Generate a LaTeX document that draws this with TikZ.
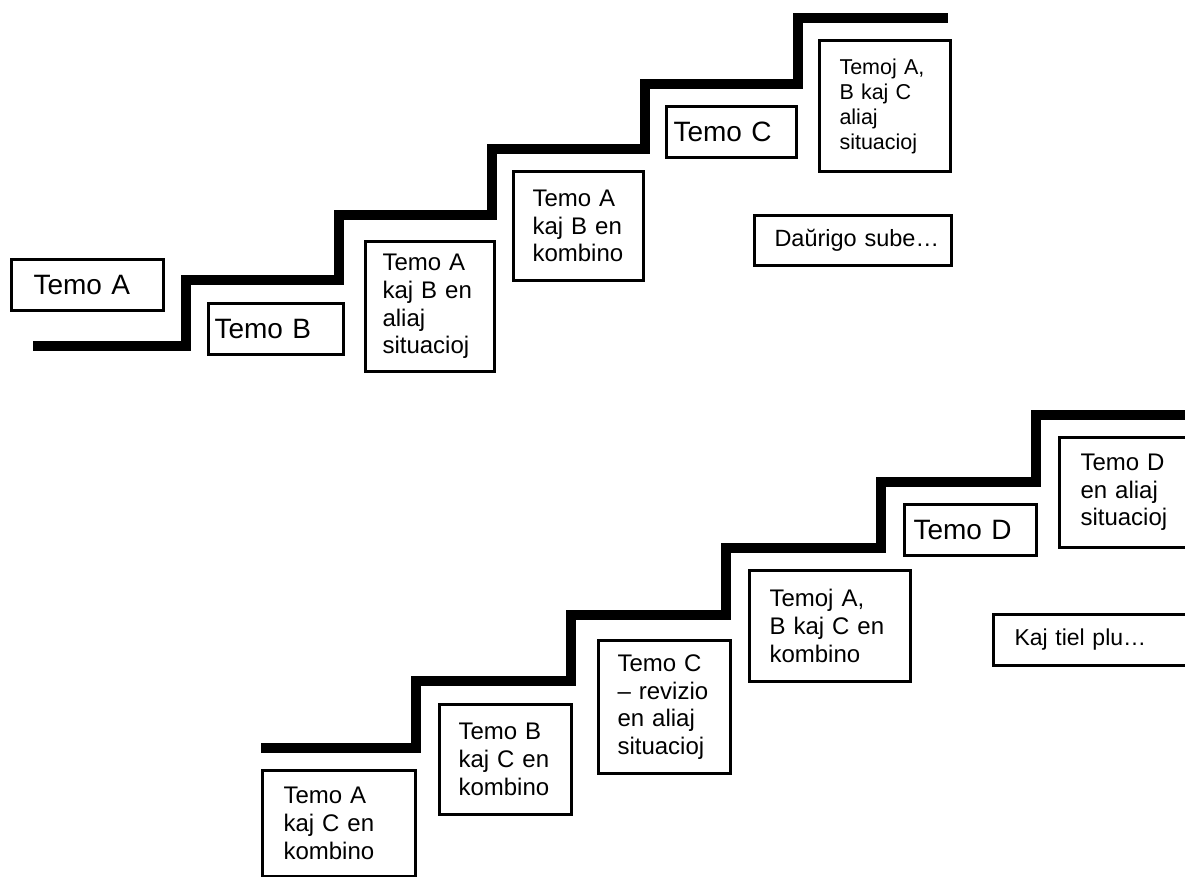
\documentclass[tikz,border=0pt]{standalone}
\usepackage{fontspec}
\setmainfont{Liberation Sans}

\begin{document}
\begin{tikzpicture}[x=1pt,y=-1pt,
    stair/.style={line width=10pt,line cap=butt,line join=miter},
    tbox/.style={draw,line width=3pt,anchor=north west,align=left,inner ysep=0pt},
    big/.style={font=\fontsize{28}{32}\selectfont},
    mid/.style={font=\fontsize{24}{27.7}\selectfont},
    small/.style={font=\fontsize{21.5}{25}\selectfont}]
    \useasboundingbox(0,0)rectangle(1185,877);
    \clip(0,0)rectangle(1185,877);
    \draw[stair](33,346)\foreach \i in {1,...,5}{--++(153,0)--++(0,-65.6)}--++(150,0);
    \draw[stair](261,748)\foreach \i in {1,...,5}{--++(155,0)--++(0,-66.6)}--++(170,0);
    \node[tbox,big,minimum width=152pt,minimum height=51pt,inner xsep=22pt,text width=108pt](temoA)at(10,258){Temo A};
    \node[tbox,big,minimum width=135pt,minimum height=51pt,inner xsep=6pt,text width=123pt](temoB)at(207,302){Temo B};
    \node[tbox,mid,minimum width=129pt,minimum height=130pt,inner xsep=17pt,text width=95pt](aBaliaj)at(364,240){Temo A\\kaj B en\\aliaj\\situacioj};
    \node[tbox,mid,minimum width=130pt,minimum height=109pt,inner xsep=19pt,text width=92pt](aBkomb)at(512,170){Temo A\\kaj B en\\kombino};
    \node[tbox,big,minimum width=130pt,minimum height=51pt,inner xsep=7pt,text width=116pt](temoC)at(665,105){Temo C};
    \node[tbox,small,minimum width=131pt,minimum height=131pt,inner xsep=20pt,text width=91pt](abcAliaj)at(818,39){Temoj A,\\B kaj C\\aliaj\\situacioj};
    \node[tbox,font=\fontsize{23.5}{27}\selectfont,minimum width=197pt,minimum height=50pt,inner xsep=20pt,text width=157pt](daurigo)at(753,214){Daŭrigo~sube…};
    \node[tbox,mid,minimum width=153pt,minimum height=106pt,inner xsep=21pt,text width=111pt](acKomb)at(261,769){Temo A\\kaj C en\\kombino};
    \node[tbox,mid,minimum width=132pt,minimum height=110pt,inner xsep=19pt,text width=94pt](bcKomb)at(438,703){Temo B\\kaj C en\\kombino};
    \node[tbox,mid,minimum width=132pt,minimum height=133pt,inner xsep=19pt,text width=94pt](cRevizio)at(597,639){Temo C\\– revizio\\en aliaj\\situacioj};
    \node[tbox,mid,minimum width=161pt,minimum height=111pt,inner xsep=20pt,text width=121pt](abcKomb)at(748,569){Temoj A,\\B kaj C en\\kombino};
    \node[tbox,big,minimum width=132pt,minimum height=51pt,inner xsep=9pt,text width=114pt](temoD)at(903,503){Temo D};
    \node[tbox,mid,minimum width=139pt,minimum height=110pt,inner xsep=21pt,text width=97pt](dAliaj)at(1058,436){Temo D\\en aliaj\\situacioj};
    \node[tbox,font=\fontsize{23}{27}\selectfont,minimum width=207pt,minimum height=51pt,inner xsep=21pt,text width=165pt](kajTiel)at(992,613){Kaj~tiel~plu…};
\end{tikzpicture}
\end{document}
